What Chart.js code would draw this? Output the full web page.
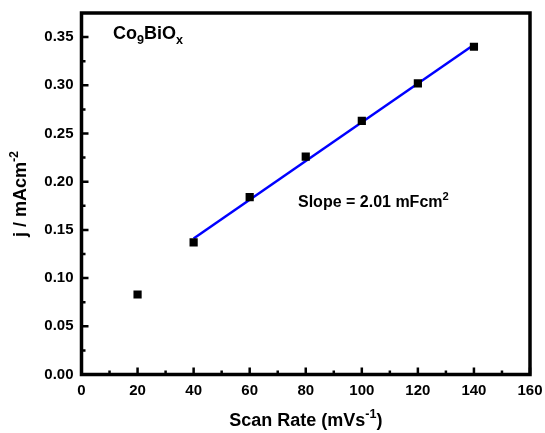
<!DOCTYPE html>
<html><head><meta charset="utf-8">
<script src="https://cdn.jsdelivr.net/npm/chart.js@4/dist/chart.umd.min.js"></script>
<style>html,body{margin:0;padding:0;background:#fff;}canvas{display:block;}</style>
</head><body>
<canvas id="c" width="545" height="433"></canvas>
<script>
// ---- data ----
const scanRates = [20, 40, 60, 80, 100, 120, 140];
const currentDensity = [0.083, 0.137, 0.184, 0.226, 0.263, 0.302, 0.340];
const fitX = [40, 140];
const fitY = [0.141, 0.342];
const xTicks = [0, 20, 40, 60, 80, 100, 120, 140, 160];
const yTicks = [0.00, 0.05, 0.10, 0.15, 0.20, 0.25, 0.30, 0.35];
const xMinorTicks = [10, 30, 50, 70, 90, 110, 130, 150];
const yMinorTicks = [0.025, 0.075, 0.125, 0.175, 0.225, 0.275, 0.325];
const sampleLabel = [['Co', ''], ['9', 'sub'], ['BiO', ''], ['x', 'sub']];
const slopeLabel = [['Slope = 2.01 mFcm', ''], ['2', 'sup']];
const xTitle = [['Scan Rate (mVs', ''], ['-1', 'sup'], [')', '']];
const yTitle = [['j / mAcm', ''], ['-2', 'sup']];

const FAM = '"Liberation Sans", Arial, sans-serif';
function segFont(size, kind) { return 'bold ' + (kind ? size * 0.7 : size) + 'px ' + FAM; }
function richWidth(ctx, segs, size) {
  let w = 0;
  for (const [t, k] of segs) { ctx.font = segFont(size, k); w += ctx.measureText(t).width; }
  return w;
}
function drawRich(ctx, segs, x, y, size, align) {
  let cx = align === 'center' ? x - richWidth(ctx, segs, size) / 2 : x;
  ctx.textAlign = 'left';
  ctx.textBaseline = 'alphabetic';
  ctx.fillStyle = '#000';
  for (const [t, k] of segs) {
    ctx.font = segFont(size, k);
    const dy = k === 'sub' ? size * 0.3 : (k === 'sup' ? -size * 0.42 : 0);
    ctx.fillText(t, cx, y + dy);
    cx += ctx.measureText(t).width;
  }
}

const decor = {
  id: 'decor',
  afterDatasetsDraw(chart) {
    const ctx = chart.ctx, a = chart.chartArea;
    const xs = chart.scales.x, ys = chart.scales.y;
    ctx.save();
    ctx.strokeStyle = '#000';
    ctx.lineWidth = 2.5;
    ctx.beginPath();
    xTicks.forEach(v => { const p = xs.getPixelForValue(v); ctx.moveTo(p, a.bottom); ctx.lineTo(p, a.bottom - 7); });
    xMinorTicks.forEach(v => { const p = xs.getPixelForValue(v); ctx.moveTo(p, a.bottom); ctx.lineTo(p, a.bottom - 4); });
    yTicks.forEach(v => { const p = ys.getPixelForValue(v); ctx.moveTo(a.left, p); ctx.lineTo(a.left + 7, p); });
    yMinorTicks.forEach(v => { const p = ys.getPixelForValue(v); ctx.moveTo(a.left, p); ctx.lineTo(a.left + 4, p); });
    ctx.stroke();
    ctx.lineWidth = 3.5;
    ctx.strokeRect(a.left, a.top, a.right - a.left, a.bottom - a.top);
    // annotations
    drawRich(ctx, sampleLabel, 113, 38.5, 18, 'left');
    drawRich(ctx, slopeLabel, 298, 206.5, 16, 'left');
    // axis titles
    drawRich(ctx, xTitle, (a.left + a.right) / 2, 426, 18, 'center');
    ctx.translate(26, 194);
    ctx.rotate(-Math.PI / 2);
    drawRich(ctx, yTitle, 0, 0, 18, 'center');
    ctx.restore();
  }
};

new Chart(document.getElementById('c'), {
  data: {
    datasets: [
      {
        type: 'scatter',
        data: scanRates.map((x, i) => ({ x, y: currentDensity[i] })),
        pointStyle: 'rect', pointRadius: 5.8, backgroundColor: '#000', borderWidth: 0,
        order: 0
      },
      {
        type: 'line',
        data: fitX.map((x, i) => ({ x, y: fitY[i] })),
        borderColor: '#0000ff', borderWidth: 2.5, pointRadius: 0, fill: false,
        order: 1
      }
    ]
  },
  options: {
    responsive: false,
    animation: false,
    layout: { padding: { left: 0, right: 15, top: 13, bottom: 0 } },
    plugins: { legend: { display: false }, tooltip: { enabled: false } },
    scales: {
      x: {
        type: 'linear', min: 0, max: 160,
        afterBuildTicks: s => { s.ticks = xTicks.map(v => ({ value: v })); },
        afterFit: s => { s.height = 58.5; s.paddingLeft = 0; s.paddingRight = 0; },
        grid: { display: false, drawTicks: false },
        border: { display: false },
        ticks: { color: '#000', padding: 7, font: { family: FAM, size: 15, weight: 'bold' }, maxRotation: 0 }
      },
      y: {
        type: 'linear', min: 0, max: 0.375,
        afterBuildTicks: s => { s.ticks = yTicks.map(v => ({ value: v })); },
        afterFit: s => { s.width = 81.5; s.paddingTop = 0; s.paddingBottom = 0; },
        grid: { display: false, drawTicks: false },
        border: { display: false },
        ticks: { color: '#000', padding: 8, font: { family: FAM, size: 15, weight: 'bold' },
                 callback: v => v.toFixed(2) }
      }
    }
  },
  plugins: [decor]
});
</script>
</body></html>
